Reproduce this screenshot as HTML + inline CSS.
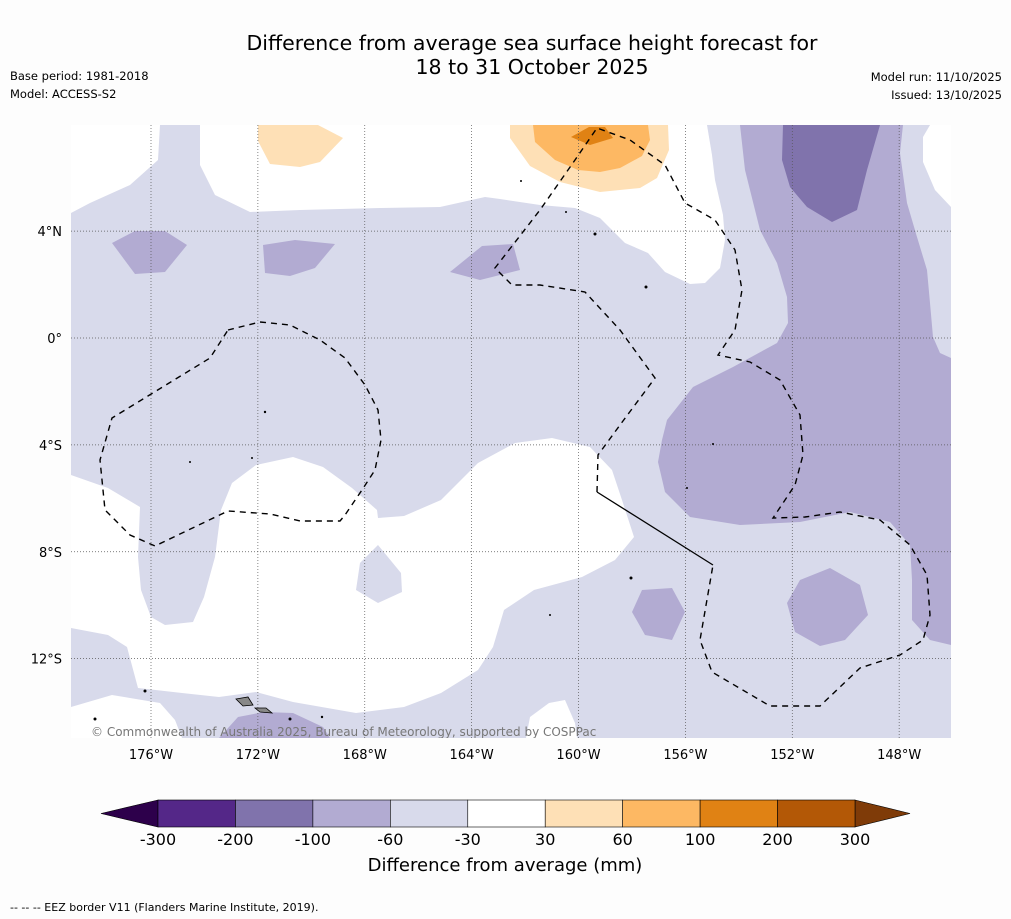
<!DOCTYPE html>
<html><head><meta charset="utf-8">
<style>
html,body{margin:0;padding:0;background:#fdfdfd;}
svg{display:block;font-family:"DejaVu Sans","Liberation Sans",sans-serif;}
</style></head>
<body>
<svg id="fig" width="1011" height="919" viewBox="0 0 1011 919">
<rect x="0" y="0" width="1011" height="919" fill="#fdfdfd"/>
<text x="532" y="50" text-anchor="middle" font-size="20.5" fill="#000">Difference from average sea surface height forecast for</text>
<text x="532" y="74" text-anchor="middle" font-size="20.5" fill="#000">18 to 31 October 2025</text>
<text x="10" y="80" font-size="11.5">Base period: 1981-2018</text>
<text x="10" y="98" font-size="11.5">Model: ACCESS-S2</text>
<text x="1002" y="81" font-size="11.5" text-anchor="end">Model run: 11/10/2025</text>
<text x="1002" y="99" font-size="11.5" text-anchor="end">Issued: 13/10/2025</text>

<defs><clipPath id="mapclip"><rect x="71" y="125" width="880" height="613"/></clipPath></defs>
<g clip-path="url(#mapclip)">
  <rect x="71" y="125" width="880" height="613" fill="#d8daeb"/>
  <path fill="#ffffff" d="M71,125 L160,125 L158,160 L130,185 L90,203 L71,213 Z"/>
  <path fill="#ffffff" d="M200,125 L707,125 L712,155 L715,180 L723,215 L725,240 L720,268 L705,283 L690,284 L665,272 L648,253 L625,243 L600,218 L575,208 L540,205 L500,199 L485,197 L440,207 L380,208 L300,210 L250,212 L215,195 L200,165 Z"/>
  <path fill="#ffffff" d="M930,125 L951,125 L951,207 L935,190 L923,162 L923,137 Z"/>
  <path fill="#fee0b6" d="M510,125 L668,125 L669,150 L657,178 L640,188 L600,192 L560,182 L530,166 L510,138 Z"/>
  <path fill="#fdb863" d="M533,125 L648,125 L650,140 L642,156 L620,168 L600,172 L578,170 L555,160 L535,142 Z"/>
  <path fill="#e08214" d="M571,137 L589,127 L605,127 L613,138 L590,145 Z"/>
  <path fill="#fee0b6" d="M258,125 L318,125 L343,138 L320,162 L300,167 L270,164 L258,141 Z"/>
  <path fill="#b2abd2" d="M740,125 L903,125 L900,153 L907,203 L917,237 L927,270 L930,303 L933,337 L940,353 L951,358 L951,645 L930,640 L912,620 L912,580 L910,545 L890,522 L850,512 L800,522 L740,525 L690,517 L665,492 L658,462 L662,440 L667,420 L693,387 L733,367 L777,343 L788,323 L787,297 L777,263 L760,230 L745,170 Z"/>
  <path fill="#8073ac" d="M783,125 L880,125 L867,170 L857,210 L832,222 L807,207 L790,187 L782,160 Z"/>
  <path fill="#b2abd2" d="M112,243 L135,231 L165,231 L187,245 L165,272 L135,274 Z"/>
  <path fill="#b2abd2" d="M263,245 L295,240 L335,244 L315,268 L290,276 L265,273 Z"/>
  <path fill="#b2abd2" d="M450,272 L482,246 L513,244 L520,270 L480,280 Z"/>
  <path fill="#b2abd2" d="M632,612 L642,590 L672,588 L685,612 L672,640 L645,635 Z"/>
  <path fill="#b2abd2" d="M787,603 L800,580 L830,568 L860,585 L868,615 L845,640 L820,646 L795,632 Z"/>
  <path fill="#ffffff" d="M71,475 L108,488 L140,507 L138,557 L141,590 L151,617 L165,625 L193,622 L204,597 L215,557 L221,510 L232,483 L256,465 L293,457 L323,467 L352,488 L377,510 L378,518 L404,516 L441,500 L478,463 L515,443 L552,438 L590,447 L612,470 L622,500 L634,537 L615,560 L582,577 L534,590 L504,610 L493,647 L478,670 L441,693 L404,707 L356,713 L293,702 L256,692 L219,697 L182,693 L138,688 L127,647 L108,635 L71,628 Z"/>
  <path fill="#d8daeb" d="M356,590 L360,563 L378,545 L401,573 L402,592 L378,603 Z"/>
  <path fill="#ffffff" d="M71,707 L112,695 L160,703 L175,720 L182,738 L71,738 Z"/>
  <path fill="#ffffff" d="M526,738 L530,717 L549,703 L565,700 L575,723 L577,738 Z"/>
  <path fill="#b2abd2" d="M219,738 L238,717 L264,712 L293,713 L323,727 L330,738 Z"/>
  <g id="grid"></g>
  <g fill="none" stroke="#000" stroke-width="1.4" stroke-dasharray="6,5">
    <path d="M228,330 L260,322 L290,325 L320,340 L345,358 L365,385 L378,410 L381,440 L375,470 L362,490 L345,515 L340,521 L300,521 L270,514 L228,511 L155,546 L130,535 L105,510 L100,460 L112,418 L210,358 Z"/>
    <path d="M597,492 L598,455 L620,425 L655,378 L620,330 L585,292 L540,285 L512,285 L495,268 L540,210 L575,160 L597,128 L630,140 L665,165 L685,203 L715,220 L735,250 L742,290 L735,330 L718,355 L750,362 L780,380 L800,415 L803,455 L795,485 L773,518 L805,517 L840,512 L880,520 L910,545 L927,575 L930,615 L923,640 L900,655 L860,668 L820,706 L770,706 L712,672 L700,640 L713,565"/>
  </g>
  <path d="M597,492 L713,565" stroke="#000" stroke-width="1.3" fill="none"/>
  <path d="M236,699 L248,697 L253,705 L243,706 Z M255,708 L266,708 L272,713 L260,712 Z" fill="#888" stroke="#000" stroke-width="0.8"/>
  <g fill="#000">
    <circle cx="265" cy="412" r="1.2"/><circle cx="252" cy="458" r="1"/><circle cx="190" cy="462" r="1"/>
    <circle cx="595" cy="234" r="1.5"/><circle cx="646" cy="287" r="1.5"/><circle cx="713" cy="444" r="1"/>
    <circle cx="687" cy="488" r="1"/><circle cx="631" cy="578" r="1.5"/><circle cx="550" cy="615" r="1"/>
    <circle cx="145" cy="691" r="1.5"/><circle cx="95" cy="719" r="1.5"/><circle cx="290" cy="719" r="1.5"/>
    <circle cx="322" cy="717" r="1.2"/><circle cx="521" cy="181" r="1"/><circle cx="566" cy="212" r="1"/>
  </g>
  <text x="91" y="736" font-size="12" fill="#777">© Commonwealth of Australia 2025, Bureau of Meteorology, supported by COSPPac</text>
</g>
<g id="axes"></g>
<g id="cbar"></g>
<text x="505" y="871" text-anchor="middle" font-size="18">Difference from average (mm)</text>
<text x="10" y="911" font-size="11">--  --  -- EEZ border V11 (Flanders Marine Institute, 2019).</text>
</svg>
<script>
const lonTicks = [-176, -172, -168, -164, -160, -156, -152, -148];
const latTicks = [4, 0, -4, -8, -12];
const cbBounds = [-300, -200, -100, -60, -30, 30, 60, 100, 200, 300];
const cbColors = ["#542788", "#8073ac", "#b2abd2", "#d8daeb", "#ffffff", "#fee0b6", "#fdb863", "#e08214", "#b35806"];
const cbLow = "#2d004b", cbHigh = "#7f3b08";
const NS = "http://www.w3.org/2000/svg";
function xLon(l){ return 151 + (l + 176) * 26.72; }
function yLat(l){ return 338 - l * 26.72; }
function mk(tag, attrs, parent){ const e = document.createElementNS(NS, tag); for (const k in attrs) e.setAttribute(k, attrs[k]); parent.appendChild(e); return e; }
const grid = document.getElementById('grid'), axes = document.getElementById('axes');
lonTicks.forEach(l => {
  const x = xLon(l);
  const ln = mk('line', {x1:x, x2:x, y1:125, y2:738, stroke:'#555', 'stroke-width':0.7, 'stroke-dasharray':'1,2'}, grid);
  
  
  const t = mk('text', {x:x, y:759, 'text-anchor':'middle', 'font-size':13}, axes);
  t.textContent = Math.abs(l) + '°W';
  
  
});
latTicks.forEach(l => {
  const y = yLat(l);
  const ln = mk('line', {x1:71, x2:951, y1:y, y2:y, stroke:'#555', 'stroke-width':0.7, 'stroke-dasharray':'1,2'}, grid);
  
  
  const t = mk('text', {x:62, y:y + 5, 'text-anchor':'end', 'font-size':13}, axes);
  t.textContent = l === 0 ? '0°' : Math.abs(l) + '°' + (l > 0 ? 'N' : 'S');
  
  
});
const cb = document.getElementById('cbar');
const cbX0 = 158, cbX1 = 855, cbY = 800, cbH = 27;
const segW = (cbX1 - cbX0) / cbColors.length;
const lo = mk('path', {d:`M${cbX0},${cbY} L101,${cbY+cbH/2} L${cbX0},${cbY+cbH} Z`, fill:cbLow, stroke:'#000', 'stroke-width':0.6}, cb);


const hi = mk('path', {d:`M${cbX1},${cbY} L910,${cbY+cbH/2} L${cbX1},${cbY+cbH} Z`, fill:cbHigh, stroke:'#000', 'stroke-width':0.6}, cb);


cbColors.forEach((c, i) => {
  const r = mk('rect', {x:cbX0 + i*segW, y:cbY, width:segW, height:cbH, fill:c, stroke:'#000', 'stroke-width':0.6}, cb);
  
  
});
cbBounds.forEach((b, i) => {
  const t = mk('text', {x:cbX0 + i*segW, y:845, 'text-anchor':'middle', 'font-size':16}, cb);
  t.textContent = b;
  
  
});
</script>
</body></html>
